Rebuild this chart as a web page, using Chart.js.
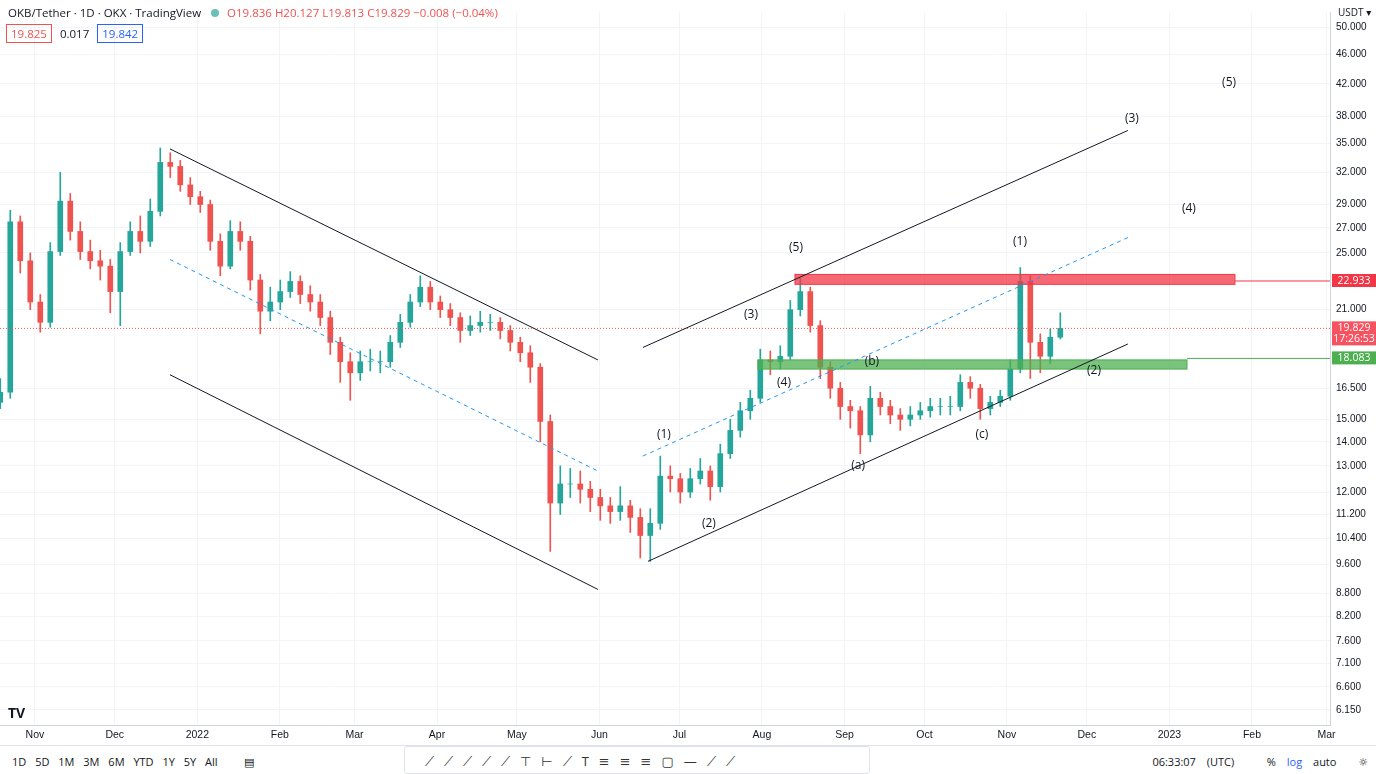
<!DOCTYPE html>
<html>
<head>
<meta charset="utf-8">
<script src="https://cdn.jsdelivr.net/npm/chart.js@4.4.0/dist/chart.umd.min.js"></script>
<style>
  body { margin:0; background:#fff; font-family: "Open Sans", "DejaVu Sans", sans-serif; color:#131722; }
  #wrap { position:relative; width:1376px; height:774px; overflow:hidden; }
  #cv { position:absolute; left:0; top:0; }
  .hdr { position:absolute; left:8px; top:5px; font-size:11.5px; white-space:nowrap; }
  .hdr .dot { display:inline-block; width:8px; height:8px; border-radius:4px; background:#26a69a; margin:0 8px 0 10px; opacity:.7 }
  .red { color:#ef5350; }
  .boxes { position:absolute; left:6px; top:24px; font-size:11.5px; }
  .boxes span { display:inline-block; padding:1px 4px; margin-right:4px; }
  .toolbar { position:absolute; left:0; top:745px; width:1376px; height:29px; border-top:1px solid #e0e3eb; font-size:11px; }
  .tf { position:absolute; left:12px; top:8px; word-spacing:6px; }
  .tools { position:absolute; left:404px; top:0; width:466px; height:28px; border:1px solid #e0e3eb; border-radius:3px; background:#fff; font-size:13px; letter-spacing:10px; line-height:28px; padding-left:20px; box-sizing:border-box; color:#333; }
  .rt { position:absolute; right:8px; top:8px; word-spacing:8px; }
  .usdt { position:absolute; left:1338px; top:5px; font-size:10px; }
  .logo { position:absolute; left:8px; top:703px; font-weight:bold; font-size:14px; }
</style>
</head>
<body>
<div id="wrap">
  <canvas id="cv" width="1376" height="745"></canvas>
  <div class="hdr">OKB/Tether · 1D · OKX · TradingView<span class="dot"></span><span class="red">O19.836 H20.127 L19.813 C19.829 −0.008 (−0.04%)</span></div>
  <div class="boxes"><span class="red" style="border:1px solid #ef5350">19.825</span><span>0.017</span><span style="color:#2962ff;border:1px solid #2962ff">19.842</span></div>
  <div class="usdt">USDT ▾</div>
  <div class="logo">TV</div>
  <div class="toolbar">
    <div class="tf">1D 5D 1M 3M 6M YTD 1Y 5Y All &nbsp; ▤</div>
    <div class="tools">⟋⟋⟋⟋⟋⊤⊢⟋T≡≡≡▢—⟋⟋</div>
    <div class="rt">06:33:07 (UTC) &nbsp; % <span style="color:#2962ff">log</span> auto &nbsp;☼</div>
  </div>
</div>
<script>
// days are counted from 2021-11-01
const startDay = -13;
const stepDays = 3.755;
const closes = [16.3,27.5,24.4,21.5,20.2,25.1,29.3,26.7,25.1,24.4,24.0,22.2,25.1,26.7,25.9,28.4,33.0,32.6,30.8,29.7,
  29.0,25.9,24.0,26.7,25.9,23.0,20.9,21.5,22.2,22.9,22.0,21.5,20.5,19.0,17.9,17.3,17.9,17.9,17.9,19.0,
  20.2,21.5,22.5,21.5,21.0,20.5,19.7,20.0,20.2,20.2,19.7,19.0,18.4,17.6,14.9,11.6,12.3,12.3,12.1,11.8,
  11.5,11.3,11.5,11.1,10.5,10.9,12.6,12.5,12.0,12.5,12.8,12.2,13.5,14.5,15.4,16.0,18.0,17.9,18.2,21.0,
  22.2,20.0,17.6,16.5,15.6,15.4,14.3,16.0,15.6,15.2,15.0,15.2,15.4,15.6,15.6,15.6,16.8,16.5,15.5,15.8,
  16.1,17.5,22.9,19.0,18.2,19.3,19.83];
const firstOpen = 15.8;
const highs = [17.0,28.5,28.0,25.0,22.0,25.8,32.0,30.0,27.5,26.0,25.2,24.5,25.8,27.5,28.0,29.5,34.5,34.0,33.2,31.5,
  30.2,29.4,26.5,27.6,27.5,26.3,23.4,22.5,23.0,23.6,23.3,22.6,22.0,20.9,19.3,18.4,18.5,18.6,18.5,19.4,
  20.7,22.0,23.3,22.9,21.9,21.4,20.8,20.6,20.9,20.7,20.5,20.0,19.3,18.8,17.8,15.2,13.0,12.9,12.8,12.4,
  12.1,11.8,12.2,11.7,11.4,11.4,13.4,13.0,12.7,12.9,13.3,13.0,13.9,15.0,15.8,16.4,18.6,18.5,18.8,21.6,
  23.1,22.5,20.3,17.9,16.8,15.9,15.6,16.6,16.3,15.9,15.5,15.6,15.8,16.0,16.0,16.1,17.2,17.1,16.7,16.1,
  16.4,18.0,23.9,23.3,19.5,19.8,20.8];
const lows = [15.5,16.0,23.5,21.0,19.6,19.9,24.8,26.0,24.5,23.8,23.0,20.8,20.0,24.8,25.0,25.5,28.0,31.5,30.2,29.0,
  28.3,25.2,23.3,23.8,25.2,22.3,19.5,20.3,21.0,21.8,21.4,20.9,20.0,18.3,16.8,15.9,16.9,17.4,17.3,17.6,
  18.7,19.9,21.2,21.0,20.5,20.0,19.0,19.4,19.6,19.7,19.2,18.5,17.9,16.8,14.0,10.0,11.2,11.8,11.6,11.3,
  11.0,10.9,11.0,10.6,9.8,9.7,10.7,12.0,11.6,11.8,12.3,11.7,12.0,13.3,14.2,15.0,15.8,17.2,17.5,18.0,
  20.6,19.6,17.0,16.0,15.0,14.6,13.5,14.0,15.2,14.8,14.5,14.7,15.0,15.1,15.2,15.2,15.4,16.0,15.0,15.2,
  15.6,15.9,17.3,17.0,17.3,17.8,19.2];

const monthDays = [0,30,61,92,120,151,181,212,242,273,304,334,365,395,426,457,485];
const monthLabels = ['Nov','Dec','2022','Feb','Mar','Apr','May','Jun','Jul','Aug','Sep','Oct','Nov','Dec','2023','Feb','Mar'];
const yTicks = [50,46,42,38,35,32,29,27,25,21,16.5,15,14,13,12,11.2,10.4,9.6,8.8,8.2,7.6,7.1,6.6,6.15];

// drawn trend lines: [day1, price1, day2, price2, dashed]
const trendLines = [
  [50.7,34.4,211.4,18.0,false],
  [50.7,17.2,211.4,8.9,false],
  [50.7,24.5,211.4,12.8,true],
  [228.3,18.7,410.4,36.4,false],
  [230.2,9.7,410.4,18.9,false],
  [228.3,13.4,410.4,26.2,true]
];
// zones: [day1, day2, low, high, level]
const resistZone = [285.4,450.6,22.7,23.4,22.933];
const supportZone = [271.5,432.6,17.5,18.0,18.083];
const lastPrice = 19.829;
const waveLabels = ['(1)','(2)','(3)','(4)','(5)','(b)','(a)','(c)','(1)','(2)','(3)','(4)','(5)'];
const waveDays = [236.2,253.1,268.9,281.3,285.8,314.3,309.1,355.6,369.9,397.7,411.9,433.3,448.4];
const wavePrices = [14.3,10.9,20.7,16.8,25.4,17.9,13.0,14.3,25.9,17.4,37.8,28.6,42.2];

const UP = '#26a69a', DOWN = '#ef5350';
const bodies = [], wicks = [], colors = [];
closes.forEach((c, i) => {
  const o = i === 0 ? firstOpen : closes[i - 1];
  const d = startDay + i * stepDays;
  bodies.push({ x: d, y: [o, c] });
  wicks.push({ x: d, y: [lows[i], highs[i]] });
  colors.push(c >= o ? UP : DOWN);
});

const overlay = {
  id: 'overlay',
  afterDatasetsDraw(chart) {
    const { ctx, chartArea: a, scales: { x, y } } = chart;
    ctx.save();
    ctx.beginPath(); ctx.rect(a.left, a.top, a.right - a.left, a.bottom - a.top); ctx.clip();
    // last price dotted
    ctx.strokeStyle = DOWN; ctx.lineWidth = 1; ctx.setLineDash([1, 2]);
    ctx.beginPath(); ctx.moveTo(a.left, y.getPixelForValue(lastPrice)); ctx.lineTo(a.right, y.getPixelForValue(lastPrice)); ctx.stroke();
    // zones
    const zone = (z, fill, line) => {
      const x1 = x.getPixelForValue(z[0]), x2 = x.getPixelForValue(z[1]);
      const y1 = y.getPixelForValue(z[3]), y2 = y.getPixelForValue(z[2]);
      ctx.setLineDash([]);
      ctx.fillStyle = fill; ctx.fillRect(x1, y1, x2 - x1, y2 - y1);
      ctx.strokeStyle = line; ctx.strokeRect(x1, y1, x2 - x1, y2 - y1);
      const ly = y.getPixelForValue(z[4]);
      ctx.beginPath(); ctx.moveTo(x2, ly); ctx.lineTo(a.right, ly); ctx.stroke();
    };
    zone(resistZone, 'rgba(242,54,69,0.75)', '#f23645');
    zone(supportZone, 'rgba(76,175,80,0.75)', '#4caf50');
    // trend lines
    trendLines.forEach(t => {
      ctx.strokeStyle = t[4] ? '#2196f3' : '#131722';
      ctx.setLineDash(t[4] ? [4, 4] : []);
      ctx.lineWidth = 1;
      ctx.beginPath();
      ctx.moveTo(x.getPixelForValue(t[0]), y.getPixelForValue(t[1]));
      ctx.lineTo(x.getPixelForValue(t[2]), y.getPixelForValue(t[3]));
      ctx.stroke();
    });
    ctx.setLineDash([]);
    ctx.fillStyle = '#131722'; ctx.font = '12px "Open Sans"'; ctx.textAlign = 'center'; ctx.textBaseline = 'middle';
    waveLabels.forEach((l, i) => ctx.fillText(l, x.getPixelForValue(waveDays[i]), y.getPixelForValue(wavePrices[i])));
    ctx.restore();
    // price boxes on axis
    ctx.save();
    ctx.font = '10.5px "Open Sans"'; ctx.textAlign = 'center'; ctx.textBaseline = 'middle';
    const box = (v, col, extra) => {
      const py = y.getPixelForValue(v);
      const h = extra ? 24 : 13;
      ctx.fillStyle = col; ctx.fillRect(a.right + 2, py - 7, 44, h);
      ctx.fillStyle = '#fff'; ctx.fillText(v.toFixed(3), a.right + 24, py);
      if (extra) ctx.fillText(extra, a.right + 24, py + 11);
    };
    box(resistZone[4], '#f23645');
    box(supportZone[4], '#4caf50');
    box(lastPrice, '#f7525f', '17:26:53');
    ctx.restore();
  }
};

new Chart(document.getElementById('cv'), {
  type: 'bar',
  data: {
    datasets: [
      { data: wicks, backgroundColor: colors, barThickness: 1, grouped: false, order: 2 },
      { data: bodies, backgroundColor: colors, barThickness: 5, grouped: false, order: 1 }
    ]
  },
  options: {
    responsive: false, animation: false,
    layout: { padding: 0 },
    plugins: { legend: { display: false }, tooltip: { enabled: false } },
    scales: {
      x: {
        type: 'linear', min: -13.1, max: 486.3, offset: false,
        grid: { color: '#f3f4f7', drawTicks: false, offset: false },
        border: { color: '#d1d4dc' },
        afterBuildTicks: s => { s.ticks = monthDays.map(v => ({ value: v })); },
        afterFit: s => { s.height = 20; },
        ticks: { autoSkip: false, maxRotation: 0, color: '#131722', font: { size: 10.5 }, padding: 4,
          callback: v => monthLabels[monthDays.indexOf(v)] }
      },
      y: {
        type: 'logarithmic', position: 'right', min: 5.87, max: 52.36,
        grid: { color: '#f3f4f7', drawTicks: false },
        border: { color: '#d1d4dc' },
        afterBuildTicks: s => { s.ticks = yTicks.map(v => ({ value: v })); },
        afterFit: s => { s.width = 46; },
        ticks: { autoSkip: false, color: '#131722', font: { size: 10 }, padding: 6,
          callback: v => Number(v).toFixed(3) }
      }
    }
  },
  plugins: [overlay]
});
</script>
</body>
</html>
